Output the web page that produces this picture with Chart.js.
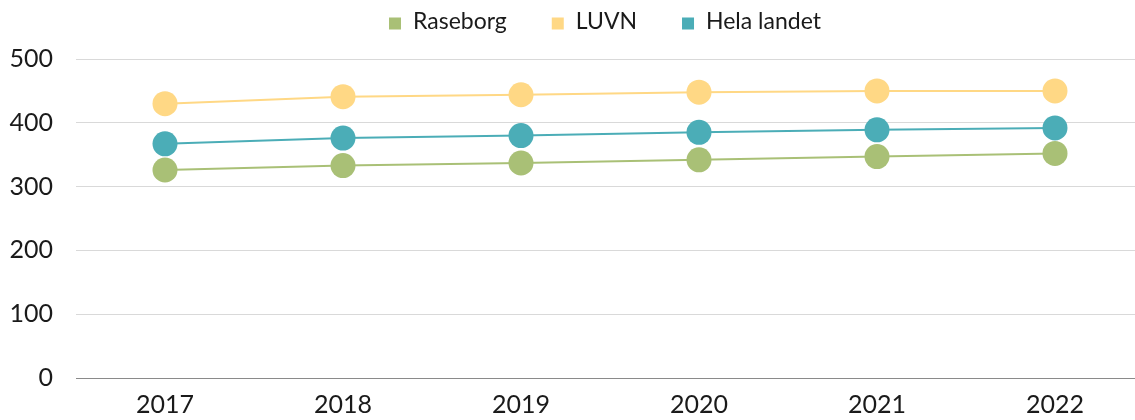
<!DOCTYPE html>
<html>
<head>
<meta charset="utf-8">
<script src="https://cdn.jsdelivr.net/npm/chart.js@4.4.1/dist/chart.umd.min.js"></script>
<style>
  html, body { margin: 0; padding: 0; background: #fff; overflow: hidden; }
  #c { display: block; }
</style>
</head>
<body>
<canvas id="c" width="1144" height="420"></canvas>
<script>
const categories = ['2017', '2018', '2019', '2020', '2021', '2022'];
const raseborg = [326, 333, 337, 342, 347, 352];
const luvn = [430, 441, 444, 448, 450, 450];
const helaLandet = [367, 376, 380, 385, 389, 392];
const yTicks = [0, 100, 200, 300, 400, 500];

const FONT = 'Lato, "Open Sans", sans-serif';

const legendPlugin = {
  id: 'customLegend',
  afterDraw(chart) {
    const ctx = chart.ctx;
    ctx.save();
    ctx.font = '400 23px ' + FONT;
    ctx.textBaseline = 'alphabetic';
    const box = 12, gapText = 12, gapItem = 45;
    const items = chart.data.datasets.map(d => ({ label: d.label, color: d.backgroundColor, w: ctx.measureText(d.label).width }));
    const total = items.reduce((s, it) => s + box + gapText + it.w, 0) + gapItem * (items.length - 1);
    const ca = chart.chartArea;
    let x = (ca.left + ca.right) / 2 - 5 - total / 2;
    items.forEach(it => {
      ctx.fillStyle = it.color;
      ctx.fillRect(x, 17.5, box, box);
      ctx.fillStyle = '#1a1a1a';
      ctx.fillText(it.label, x + box + gapText, 28.5);
      x += box + gapText + it.w + gapItem;
    });
    ctx.restore();
  }
};

function ds(label, data, color) {
  return {
    label, data,
    borderColor: color,
    backgroundColor: color,
    borderWidth: 2,
    pointRadius: 12.5,
    pointHoverRadius: 12.5,
    pointBorderWidth: 0,
    pointBackgroundColor: color,
    tension: 0,
    clip: false
  };
}

new Chart(document.getElementById('c'), {
  type: 'line',
  data: {
    labels: categories,
    datasets: [
      ds('Raseborg', raseborg, '#A9C076'),
      ds('LUVN', luvn, '#FFD885'),
      ds('Hela landet', helaLandet, '#4BADB7')
    ]
  },
  options: {
    responsive: false,
    devicePixelRatio: 1,
    animation: false,
    layout: { autoPadding: false, padding: { top: 59, right: 0, bottom: 0, left: 0 } },
    plugins: {
      legend: { display: false },
      tooltip: { enabled: false }
    },
    scales: {
      x: {
        offset: true,
        grid: { display: false, drawTicks: false },
        border: { display: true, color: '#8a8a8a', width: 1 },
        ticks: { color: '#1a1a1a', font: { family: FONT, size: 25, weight: 400 }, padding: 12, maxRotation: 0 },
        afterFit(scale) { scale.height = 42; }
      },
      y: {
        min: 0, max: 500,
        afterBuildTicks(scale) { scale.ticks = yTicks.map(v => ({ value: v })); },
        grid: {
          drawTicks: false,
          color: c => (c.tick && c.tick.value === 0) ? '#8a8a8a' : '#d9d9d9',
          lineWidth: 1
        },
        border: { display: false },
        ticks: { color: '#1a1a1a', font: { family: FONT, size: 25, weight: 400 }, padding: 23 },
        afterFit(scale) { scale.width = 76; }
      }
    }
  },
  plugins: [legendPlugin]
});
</script>
</body>
</html>
